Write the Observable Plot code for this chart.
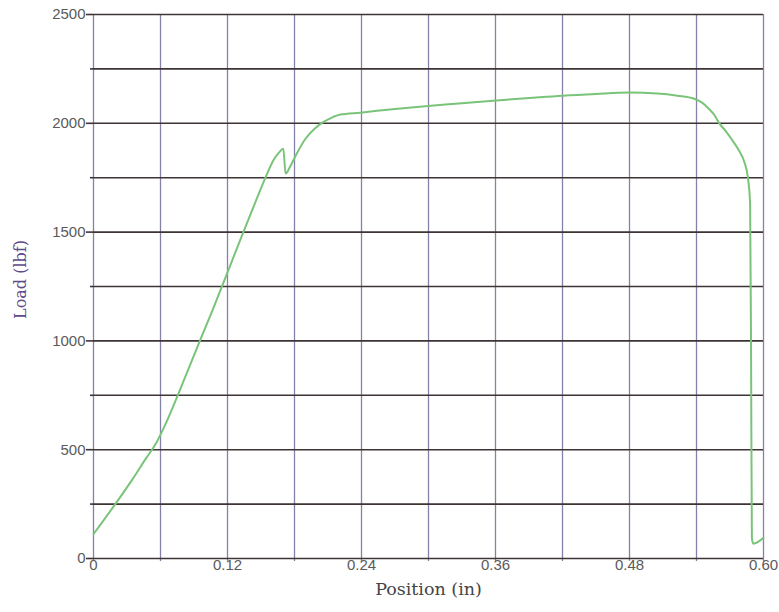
<!DOCTYPE html>
<html>
<head>
<meta charset="utf-8">
<script src="https://cdn.jsdelivr.net/npm/d3@7"></script>
<script src="https://cdn.jsdelivr.net/npm/@observablehq/plot@0.6"></script>
<style>
  html, body { margin: 0; padding: 0; background: #fff; }
  #chart svg { display: block; }
</style>
</head>
<body>
<div id="chart"></div>
<script>
// Tensile test record: crosshead position (in) against load (lbf)
const position = [
  0.000, 0.0195, 0.035, 0.047, 0.0555, 0.066, 0.076, 0.0956,
  0.106, 0.1164, 0.1334, 0.144, 0.154, 0.161, 0.166, 0.170, 0.172,
  0.176, 0.181, 0.190, 0.198, 0.205, 0.213, 0.221, 0.239, 0.270, 0.302,
  0.330, 0.358, 0.390, 0.420, 0.450, 0.480, 0.505, 0.523, 0.538, 0.545,
  0.551, 0.556, 0.560, 0.566, 0.571, 0.578, 0.583, 0.586, 0.588, 0.5889,
  0.5896, 0.5908, 0.600
];
const load = [
  112, 250, 365, 460, 525, 635, 757, 1005,
  1133, 1268, 1490, 1625, 1750, 1829, 1865, 1883, 1769,
  1800, 1851, 1930, 1975, 2003, 2025, 2040, 2049, 2066, 2081,
  2092, 2104, 2116, 2127, 2135, 2141, 2137, 2127, 2113, 2095,
  2067, 2038, 2003, 1965, 1930, 1875, 1820, 1751, 1631, 900,
  95, 68, 95
];

// Grid and tick values
const xGrid = [0, 0.06, 0.12, 0.18, 0.24, 0.30, 0.36, 0.42, 0.48, 0.54, 0.60];
const xTicks = [0, 0.12, 0.24, 0.36, 0.48, 0.60];
const xTickLabels = ["0", "0.12", "0.24", "0.36", "0.48", "0.60"];
const yGrid = [0, 250, 500, 750, 1000, 1250, 1500, 1750, 2000, 2250, 2500];
const yTicks = [0, 500, 1000, 1500, 2000, 2500];
const yMinorTicks = [250, 750, 1250, 1750, 2250];

const rows = position.map((p, i) => ({position: p, load: load[i]}));

const vGridColor = "#8282aa";
const hGridColor = "#3e3434";
const tickFont = "'Liberation Sans', Arial, sans-serif";
const titleFont = "'DejaVu Serif', serif";

const chart = Plot.plot({
  width: 779,
  height: 612,
  marginLeft: 93,
  marginRight: 16,
  marginTop: 14,
  marginBottom: 54,
  style: {background: "#fff", overflow: "visible"},
  x: {domain: [0, 0.6]},
  y: {domain: [0, 2500]},
  marks: [
    // vertical grid
    Plot.ruleX(xGrid, {x: d => d, y1: 0, y2: 2500, stroke: vGridColor, strokeWidth: 1.3}),
    Plot.axisX(xGrid, {tickSize: 3, stroke: vGridColor, strokeWidth: 1.3, text: null, label: null}),
    // horizontal grid
    Plot.ruleY(yGrid, {y: d => d, x1: 0, x2: 0.6, stroke: hGridColor, strokeWidth: 1.6}),
    Plot.axisY(yMinorTicks, {tickSize: 3, stroke: hGridColor, strokeWidth: 1.6, text: null, label: null}),
    Plot.axisY(yTicks, {
      tickSize: 7, tickPadding: 1, stroke: hGridColor, strokeWidth: 1.6,
      fill: "#5a5a5a", fontSize: 15, fontFamily: tickFont, label: null,
      tickFormat: d => String(d)
    }),
    Plot.axisX(xTicks, {
      tickSize: 0, tickPadding: 1, fill: "#5a5a5a", fontSize: 15, fontFamily: tickFont, label: null,
      tickFormat: d => xTickLabels[xTicks.indexOf(d)]
    }),
    // load curve
    Plot.line(rows, {x: "position", y: "load", stroke: "#7ac47a", strokeWidth: 2, curve: "monotone-x"}),
    // axis titles
    Plot.text(["Position (in)"], {
      frameAnchor: "bottom", dy: 31, lineAnchor: "middle", textAnchor: "middle",
      fontSize: 17.5, fontFamily: titleFont, fill: "#444"
    }),
    Plot.text(["Load (lbf)"], {
      frameAnchor: "left", dx: -73, dy: -7, rotate: -90, lineAnchor: "middle", textAnchor: "middle",
      fontSize: 16, fontFamily: titleFont, fill: "#5c4c8c"
    })
  ]
});

document.getElementById("chart").appendChild(chart);
</script>
</body>
</html>
